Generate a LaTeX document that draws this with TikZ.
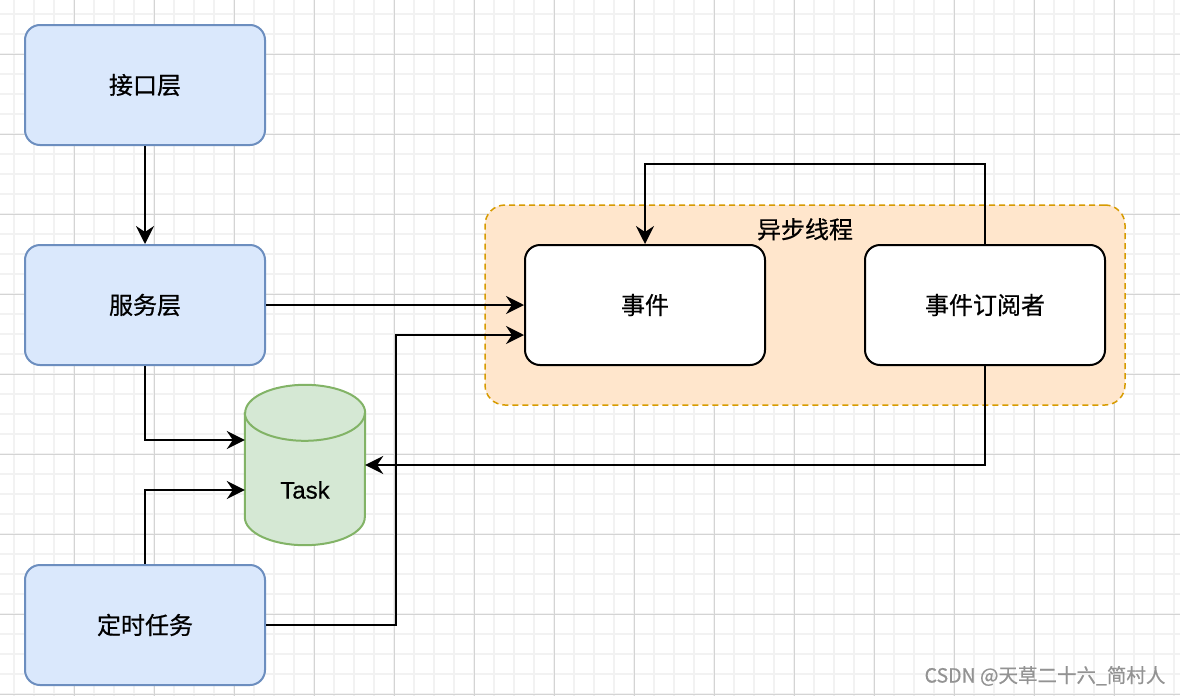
\documentclass[tikz,border=0pt]{standalone}
\usepackage{fontspec}
\setmainfont{Liberation Sans}[FakeBold=0.5]
\newfontfamily\cjk{Noto Sans CJK SC}[FakeBold=0.6]
\usetikzlibrary{positioning,arrows.meta}
\definecolor{bluefill}{HTML}{DAE8FC}
\definecolor{blueline}{HTML}{6C8EBF}
\definecolor{greenfill}{HTML}{D5E8D4}
\definecolor{greenline}{HTML}{82B366}
\definecolor{orangefill}{HTML}{FFE6CC}
\definecolor{orangeline}{HTML}{D79B00}
\definecolor{gridminor}{HTML}{F2F2F2}
\definecolor{gridmajor}{HTML}{D4D4D4}

\begin{document}
\begin{tikzpicture}[x=1pt,y=1pt,
  layer/.style={draw=blueline,fill=bluefill,line width=2pt,rounded corners=15pt,minimum width=240pt,minimum height=120pt,font=\cjk\fontsize{24}{28}\selectfont},
  inner/.style={draw=black,fill=white,line width=2pt,rounded corners=15pt,minimum width=240pt,minimum height=120pt,font=\cjk\fontsize{24}{28}\selectfont},
  flow/.style={line width=2.2pt,-{Stealth[length=18pt,width=18pt,inset=6pt]}}]
\fill[white] (0,0) rectangle (1180,-696);
\useasboundingbox (0,0) rectangle (1180,-696);
\foreach \x in {14,34,...,1174} \draw[gridminor,line width=1.2pt] (\x,0) -- (\x,-696);
\foreach \y in {14,34,...,694} \draw[gridminor,line width=1.2pt] (0,-\y) -- (1180,-\y);
\foreach \x in {74,154,...,1154} \draw[gridmajor,line width=0.8pt] (\x,0) -- (\x,-696);
\foreach \y in {54,134,...,694} \draw[gridmajor,line width=0.8pt] (0,-\y) -- (1180,-\y);

\node[draw=orangeline,fill=orangefill,line width=1.5pt,dash pattern=on 6pt off 4pt,rounded corners=20pt,minimum width=640pt,minimum height=200pt] (async) at (805,-305) {};
\node[font=\cjk\fontsize{24}{28}\selectfont] (asynclabel) at ([yshift=-25pt]async.north) {异步线程};

\node[layer] (api) at (145,-85) {接口层};
\node[layer, on grid, below=220pt of api] (svc) {服务层};
\node[layer, on grid, below=320pt of svc] (timer) {定时任务};
\node[inner] (evt) at (645,-305) {事件};
\node[inner, on grid, right=340pt of evt] (sub) {事件订阅者};

\node[minimum width=120pt,minimum height=160pt,inner sep=0pt] (task) at (305,-465) {};
\filldraw[draw=greenline,fill=greenfill,line width=2pt] ([yshift=-28pt]task.north west) -- ([yshift=28pt]task.south west) arc[start angle=180,end angle=360,x radius=60pt,y radius=28pt] -- ([yshift=-28pt]task.north east) arc[start angle=0,end angle=180,x radius=60pt,y radius=28pt] -- cycle;
\draw[greenline,line width=2pt] ([yshift=-28pt]task.north west) arc[start angle=180,end angle=360,x radius=60pt,y radius=28pt];
\node[font=\fontsize{24}{28}\selectfont] (tasklabel) at ([yshift=-25pt]task.center) {Task};

\draw[flow] (api.south) -- (svc.north);
\draw[flow] (svc.east) -- (evt.west);
\draw[flow] (svc.south) |- ([yshift=25pt]task.west);
\draw[flow] (timer.north) |- ([yshift=-25pt]task.west);
\draw[flow] (timer.east) -- ++(130,0) |- ([yshift=-30pt]evt.west);
\draw[flow] (sub.north) -- ++(0,80) -| (evt.north);
\draw[flow] (sub.south) |- (task.east);

\node[font=\cjk\fontsize{19.5}{22}\selectfont,text=gray!85] (mark) at (1045,-676) {CSDN @天草二十六\_简村人};
\end{tikzpicture}
\end{document}
